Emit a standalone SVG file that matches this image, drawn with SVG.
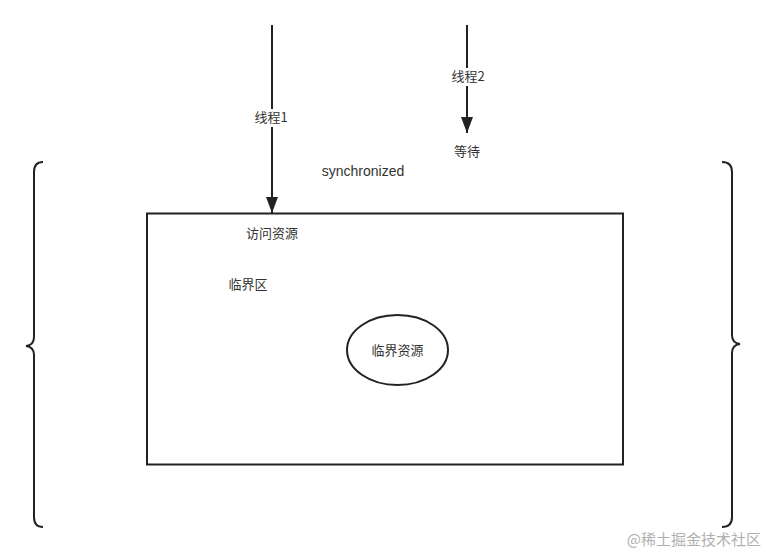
<svg xmlns="http://www.w3.org/2000/svg" width="765" height="553" viewBox="0 0 765 553">
<style>
.t{font-family:"Noto Sans CJK SC","Liberation Sans",sans-serif;font-size:13px;fill:#333;text-anchor:middle;dominant-baseline:central}
.l{font-family:"Liberation Sans","Noto Sans CJK SC",sans-serif;font-size:14px;fill:#333;text-anchor:middle;dominant-baseline:central}
.s{fill:none;stroke:#222;stroke-width:2}
.w{font-family:"Noto Sans CJK SC",sans-serif;font-size:15px;fill:#b0b0b0;text-anchor:end}
</style>
<defs>
<marker id="ah2" viewBox="0 0 16 12" refX="16" refY="6" markerWidth="16" markerHeight="12" orient="auto" markerUnits="userSpaceOnUse"><path d="M0,0 L16,6 L0,12 Z" fill="#222"/></marker>
</defs>
<rect width="765" height="553" fill="#fff"/>
<g id="connectors">
<line class="s" x1="272" y1="25" x2="272" y2="213" marker-end="url(#ah2)"/>
<line class="s" x1="467" y1="25" x2="467" y2="133" marker-end="url(#ah2)"/>
<rect x="251" y="109" width="42" height="18" fill="#fff"/>
<text class="t" x="271" y="116">线程1</text>
<rect x="447" y="68" width="42" height="18" fill="#fff"/>
<text class="t" x="468" y="75">线程2</text>
</g>
<g id="wait"><text class="t" x="467" y="150">等待</text></g>
<g id="sync"><text class="l" x="363" y="171">synchronized</text></g>
<g id="critical-section">
<rect x="147" y="213.5" width="476" height="251" fill="none" stroke="#222" stroke-width="2"/>
<text class="t" x="272" y="232">访问资源</text>
<text class="t" x="248" y="283">临界区</text>
</g>
<g id="critical-resource">
<ellipse cx="397.5" cy="350" rx="50.5" ry="35" fill="#fff" stroke="#222" stroke-width="2"/>
<text class="t" x="397.5" y="349">临界资源</text>
</g>
<g id="left-brace">
<path class="s" d="M43,162 Q34,162 34,172 L34,337 Q34,345 26,346 Q34,347 34,355 L34,517 Q34,527 43,527"/>
</g>
<g id="right-brace">
<path class="s" d="M722,162 Q732,162 732,172 L732,335 Q732,343 740,344 Q732,345 732,353 L732,517 Q732,527 722,527"/>
</g>
<text class="w" x="761" y="545">@稀土掘金技术社区</text>
</svg>
